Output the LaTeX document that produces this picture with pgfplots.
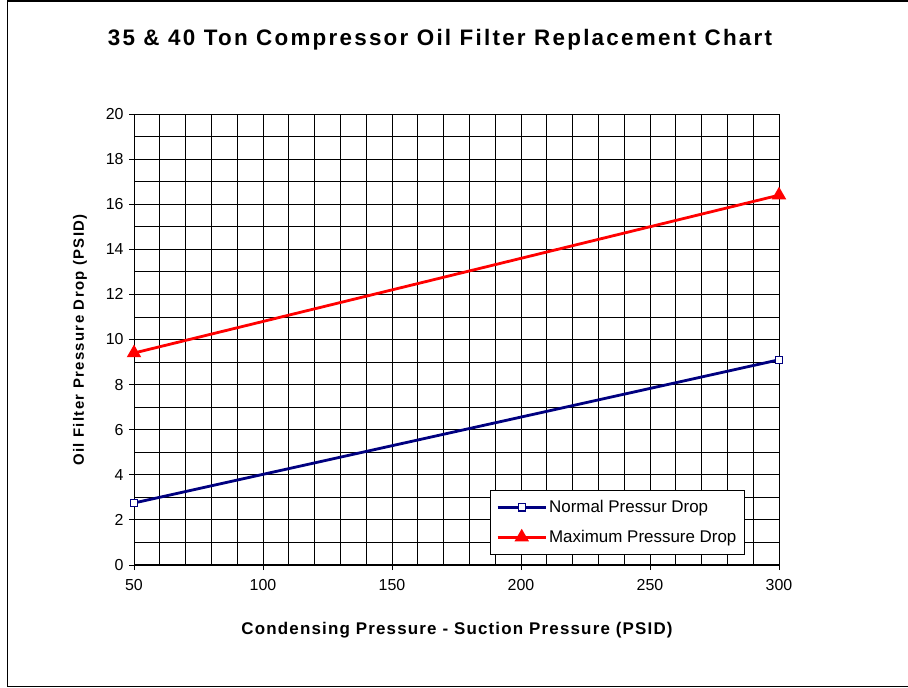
\documentclass[border=0pt]{standalone}
\usepackage{pgfplots}
\pgfplotsset{compat=1.18}
\usepackage{fontspec}
\setmainfont{Liberation Sans}
\definecolor{navyline}{RGB}{0,0,128}

% Oil filter pressure drop limits, two end points per series
\pgfplotstableread{
x   y
50  2.75
300 9.1
}\normaldrop
\pgfplotstableread{
x   y
50  9.4
300 16.4
}\maxdrop

\begin{document}
\begin{tikzpicture}
  % page area and outer frame
  \useasboundingbox (0bp,0bp) rectangle (908bp,688bp);
  \fill[white] (0bp,0bp) rectangle (908bp,688bp);
  \draw[line width=1.2bp] (908bp,1.5bp) -- (7.5bp,1.5bp) -- (7.5bp,687bp) -- (908bp,687bp);
  \begin{axis}[
    at={(134bp,123bp)}, anchor=south west,
    scale only axis, width=645bp, height=451bp,
    xmin=50, xmax=300, ymin=0, ymax=20,
    xtick={50,100,...,300}, ytick={0,2,...,20},
    minor xtick={60,70,...,290}, minor ytick={1,3,...,19},
    grid=both,
    major grid style={black, line width=0.8bp},
    minor grid style={black, line width=0.8bp},
    axis line style={black, line width=1bp},
    tick style={black, line width=0.8bp},
    major tick length=5bp, minor tick length=0bp,
    tick align=outside, axis lines*=left,
    xtick pos=bottom, ytick pos=left,
    /pgf/number format/assume math mode=true,
    ticklabel style={font=\fontsize{16}{19}\selectfont},
    xticklabel style={yshift=-6bp},
    yticklabel style={xshift=-2bp},
    legend cell align=left,
    legend style={at={(0.947,0.166)}, anchor=north east,
      draw=black, line width=0.8bp, fill=white,
      font=\fontsize{17}{20}\selectfont, inner xsep=6bp, inner ysep=8bp,
      row sep=12bp, nodes={inner xsep=2bp, inner ysep=2bp}},
    legend image code/.code={
      \draw[mark repeat=2,mark phase=2] plot coordinates {(0bp,0bp) (24bp,0bp) (48bp,0bp)};},
  ]
    \addplot[navyline, line width=2.8bp, mark=square*,
      mark options={fill=white, draw=navyline, line width=1.2bp}, mark size=3.6bp]
      table {\normaldrop};
    \addlegendentry{Normal Pressur Drop}
    \addplot[red, line width=2.8bp, mark=triangle*,
      mark options={fill=red, draw=red}, mark size=5.6bp]
      table {\maxdrop};
    \addlegendentry{Maximum Pressure Drop}
  \end{axis}
  % titles
  \node[font=\fontsize{22.5}{26}\selectfont\bfseries\addfontfeatures{LetterSpace=10}] at (440bp,648bp)
    {35 \& 40 Ton Compressor Oil Filter Replacement Chart};
  \node[font=\fontsize{17}{20}\selectfont\bfseries\addfontfeatures{LetterSpace=7}] at (457bp,58bp)
    {Condensing Pressure - Suction Pressure (PSID)};
  \node[font=\fontsize{15}{18}\selectfont\bfseries\addfontfeatures{LetterSpace=9}, rotate=90] at (80bp,348bp)
    {Oil Filter Pressure Drop (PSID)};
\end{tikzpicture}
\end{document}
